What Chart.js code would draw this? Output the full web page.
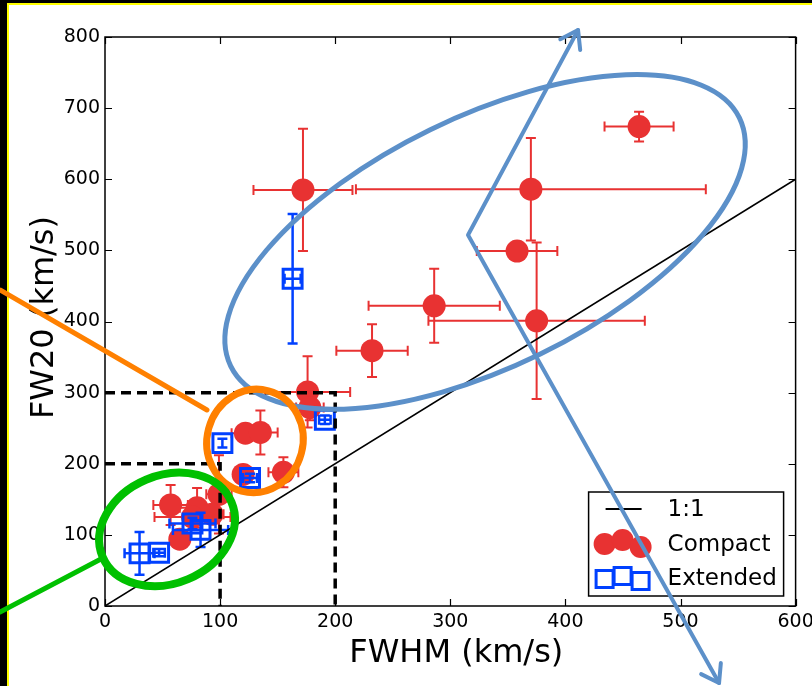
<!DOCTYPE html>
<html>
<head>
<meta charset="utf-8">
<script src="https://cdn.jsdelivr.net/npm/chart.js@4.4.1/dist/chart.umd.min.js"></script>
<style>
  html, body { margin: 0; padding: 0; background: #000; }
  canvas { display: block; }
</style>
</head>
<body>
<canvas id="chart" width="812" height="686"></canvas>
<script>
// Line widths (km/s): FWHM on x, FW20 on y, with 1-sigma errors
const compactFWHM    = [464, 370, 172, 358, 375, 286, 232, 176, 178, 122, 135, 155, 120,  99,  57,  80,  76,  93,  65];
const compactFW20    = [674, 586, 585, 499, 401, 422, 359, 301, 279, 243, 244, 188, 185, 157, 142, 138, 125, 129,  94];
const compactFWHMErr = [ 30, 152,  43,  35,  94,  57,  31,  37,  12,  12,  15,  13,   8,  11,  15,  15,  33,  10,   0];
const compactFW20Err = [ 21,  72,  86,   8, 110,  52,  37,  50,  18,  10,  31,  21,   8,  55,  28,  28,  12,  10,   0];

const extendedFWHM    = [163, 191, 102, 126,  83,  76,  30,  47];
const extendedFW20    = [460, 262, 229, 180, 107, 116,  74,  75];
const extendedFWHMErr = [  7,   5,   0,   6,  24,  20,  13,   5];
const extendedFW20Err = [ 91,   6,   6,   6,  24,   8,  30,   5];

// 1:1 reference line and the two selection boxes (FWHM < cut, FW20 < cut)
const unityFWHM = [0, 600];
const unityFW20 = [0, 600];
const boxFWHMCuts = [100, 200];
const boxFW20Cuts = [200, 300];

// Axis ticks
const xTickValues = [0, 100, 200, 300, 400, 500, 600];
const xTickLabels = ['0', '100', '200', '300', '400', '500', '600'];
const yTickValues = [0, 100, 200, 300, 400, 500, 600, 700, 800];
const yTickLabels = ['0', '100', '200', '300', '400', '500', '600', '700', '800'];

const xTitle = 'FWHM (km/s)';
const yTitle = 'FW20 (km/s)';

const RED = 'rgb(232,50,50)';
const BLUE = 'rgb(0,64,255)';
const FONT = "'DejaVu Sans', 'Liberation Sans', sans-serif";

const toPoints = (xs, ys) => xs.map((x, i) => ({ x, y: ys[i] }));
const boxPath = (fwhm, fw20) => [{ x: 0, y: fw20 }, { x: fwhm, y: fw20 }, { x: fwhm, y: 0 }];

// Callout shapes drawn over the plot (centres in data units, radii in px)
const calloutEllipses = [
  { cx: 330.2, cy: 511.8, rx: 283, ry: 125, rot: -26, color: 'rgb(92,144,201)', width: 5 },
  { cx: 130.3, cy: 232.0, rx: 48,  ry: 52,  rot: 15,  color: 'rgb(255,128,0)',  width: 7 },
  { cx: 53.9,  cy: 107.6, rx: 70,  ry: 54,  rot: -23, color: 'rgb(0,192,0)',    width: 8 }
];
const calloutLines = [
  { pts: [[-91.2, 444.3], [88.6, 275.6]], color: 'rgb(255,128,0)', width: 5, arrows: false },
  { pts: [[-91.2, -8.4], [-3.5, 66.1]], color: 'rgb(0,192,0)', width: 5, arrows: false },
  { pts: [[411.0, 809.8], [315.4, 521.6], [533.5, -108.3]], color: 'rgb(92,144,201)', width: 4, arrows: true }
];

const pageBackground = {
  id: 'pageBackground',
  beforeDraw(chart) {
    const { ctx, width, height } = chart;
    ctx.save();
    ctx.fillStyle = '#000';
    ctx.fillRect(0, 0, width, height);
    ctx.fillStyle = '#ffff00';
    ctx.fillRect(7, 3, width - 7, height - 3);
    ctx.fillStyle = '#fff';
    ctx.fillRect(9, 5, width - 9, height - 5);
    ctx.restore();
  }
};

const errorBars = {
  id: 'errorBars',
  beforeDatasetDraw(chart, args) {
    const ds = chart.data.datasets[args.index];
    if (!ds.errX) return;
    const { ctx } = chart;
    const xs = chart.scales.x, ys = chart.scales.y;
    const cap = 5;
    ctx.save();
    ctx.strokeStyle = ds.errColor;
    ctx.lineWidth = ds.errWidth;
    ds.data.forEach((p, i) => {
      const px = xs.getPixelForValue(p.x), py = ys.getPixelForValue(p.y);
      const ex = ds.errX[i], ey = ds.errY[i];
      ctx.beginPath();
      if (ex > 0) {
        const x0 = xs.getPixelForValue(p.x - ex), x1 = xs.getPixelForValue(p.x + ex);
        ctx.moveTo(x0, py); ctx.lineTo(x1, py);
        ctx.moveTo(x0, py - cap); ctx.lineTo(x0, py + cap);
        ctx.moveTo(x1, py - cap); ctx.lineTo(x1, py + cap);
      }
      if (ey > 0) {
        const y0 = ys.getPixelForValue(p.y - ey), y1 = ys.getPixelForValue(p.y + ey);
        ctx.moveTo(px, y0); ctx.lineTo(px, y1);
        ctx.moveTo(px - cap, y0); ctx.lineTo(px + cap, y0);
        ctx.moveTo(px - cap, y1); ctx.lineTo(px + cap, y1);
      }
      ctx.stroke();
    });
    ctx.restore();
  }
};

const frameAndLegend = {
  id: 'frameAndLegend',
  afterDatasetsDraw(chart) {
    const { ctx, chartArea: a } = chart;
    const xs = chart.scales.x, ys = chart.scales.y;
    ctx.save();
    // inward ticks on all four sides
    ctx.strokeStyle = '#000';
    ctx.lineWidth = 1.2;
    const tl = 7;
    ctx.beginPath();
    xTickValues.forEach(v => {
      const p = Math.round(xs.getPixelForValue(v)) + 0.5;
      ctx.moveTo(p, a.bottom); ctx.lineTo(p, a.bottom - tl);
      ctx.moveTo(p, a.top); ctx.lineTo(p, a.top + tl);
    });
    yTickValues.forEach(v => {
      const p = Math.round(ys.getPixelForValue(v)) + 0.5;
      ctx.moveTo(a.left, p); ctx.lineTo(a.left + tl, p);
      ctx.moveTo(a.right, p); ctx.lineTo(a.right - tl, p);
    });
    ctx.stroke();
    // frame
    ctx.lineWidth = 1.5;
    ctx.strokeRect(a.left, a.top, a.right - a.left, a.bottom - a.top);

    // axis titles
    ctx.fillStyle = '#000';
    ctx.font = '32px ' + FONT;
    ctx.textAlign = 'center';
    ctx.textBaseline = 'alphabetic';
    ctx.fillText(xTitle, (a.left + a.right) / 2 + 6, 662);
    ctx.save();
    ctx.translate(53, (a.top + a.bottom) / 2 - 4);
    ctx.rotate(-Math.PI / 2);
    ctx.fillText(yTitle, 0, 0);
    ctx.restore();

    // legend
    const w = 195, h = 104;
    const lx = a.right - 12 - w, ly = a.bottom - 10 - h;
    ctx.fillStyle = '#fff';
    ctx.fillRect(lx, ly, w, h);
    ctx.lineWidth = 1.5;
    ctx.strokeStyle = '#000';
    ctx.strokeRect(lx, ly, w, h);
    const rows = chart.data.datasets.filter(d => d.legendKind);
    const rowY = [17, 52, 86];
    const sampleX = [16, 34, 52];
    ctx.font = '23px ' + FONT;
    ctx.textAlign = 'left';
    ctx.textBaseline = 'middle';
    rows.forEach((d, r) => {
      const cy = ly + rowY[r];
      if (d.legendKind === 'line') {
        ctx.strokeStyle = d.borderColor;
        ctx.lineWidth = 2;
        ctx.beginPath();
        ctx.moveTo(lx + 17, cy); ctx.lineTo(lx + 53, cy);
        ctx.stroke();
      } else if (d.legendKind === 'circle') {
        const off = [0, -4, 3];
        ctx.fillStyle = d.backgroundColor;
        sampleX.forEach((sx, k) => {
          ctx.beginPath();
          ctx.arc(lx + sx, cy + off[k], 11, 0, Math.PI * 2);
          ctx.fill();
        });
      } else if (d.legendKind === 'square') {
        const off = [1, -2, 3];
        ctx.strokeStyle = d.borderColor;
        ctx.lineWidth = 3;
        sampleX.forEach((sx, k) => {
          ctx.strokeRect(lx + sx - 8.5, cy + off[k] - 8.5, 17, 17);
        });
      }
      ctx.fillStyle = '#000';
      ctx.fillText(d.label, lx + 79, cy + 1);
    });
    ctx.restore();
  }
};

const callouts = {
  id: 'callouts',
  afterDraw(chart) {
    const { ctx } = chart;
    const xs = chart.scales.x, ys = chart.scales.y;
    const px = v => xs.getPixelForValue(v), py = v => ys.getPixelForValue(v);
    ctx.save();
    ctx.lineCap = 'round';
    ctx.lineJoin = 'round';
    calloutEllipses.forEach(e => {
      ctx.strokeStyle = e.color;
      ctx.lineWidth = e.width;
      ctx.beginPath();
      ctx.ellipse(px(e.cx), py(e.cy), e.rx, e.ry, e.rot * Math.PI / 180, 0, Math.PI * 2);
      ctx.stroke();
    });
    calloutLines.forEach(l => {
      const pts = l.pts.map(([x, y]) => [px(x), py(y)]);
      ctx.strokeStyle = l.color;
      ctx.lineWidth = l.width;
      ctx.beginPath();
      pts.forEach(([x, y], i) => (i ? ctx.lineTo(x, y) : ctx.moveTo(x, y)));
      ctx.stroke();
      if (l.arrows) {
        const heads = [[pts[1], pts[0]], [pts[pts.length - 2], pts[pts.length - 1]]];
        heads.forEach(([from, tip]) => {
          const ang = Math.atan2(tip[1] - from[1], tip[0] - from[0]);
          const len = 20, spread = 0.6;
          ctx.beginPath();
          ctx.moveTo(tip[0] - len * Math.cos(ang - spread), tip[1] - len * Math.sin(ang - spread));
          ctx.lineTo(tip[0], tip[1]);
          ctx.lineTo(tip[0] - len * Math.cos(ang + spread), tip[1] - len * Math.sin(ang + spread));
          ctx.stroke();
        });
      }
    });
    ctx.restore();
  }
};

new Chart(document.getElementById('chart'), {
  type: 'scatter',
  data: {
    datasets: [
      {
        label: '1:1', type: 'line', legendKind: 'line', order: 0,
        data: toPoints(unityFWHM, unityFW20),
        borderColor: '#000', borderWidth: 1.5, pointRadius: 0, fill: false
      },
      {
        label: 'cut-100', type: 'line', order: 0,
        data: boxPath(boxFWHMCuts[0], boxFW20Cuts[0]),
        borderColor: '#000', borderWidth: 3.5, borderDash: [10, 6], pointRadius: 0, fill: false
      },
      {
        label: 'cut-200', type: 'line', order: 0,
        data: boxPath(boxFWHMCuts[1], boxFW20Cuts[1]),
        borderColor: '#000', borderWidth: 3.5, borderDash: [10, 6], pointRadius: 0, fill: false
      },
      {
        label: 'Compact', legendKind: 'circle', order: 2,
        data: toPoints(compactFWHM, compactFW20),
        errX: compactFWHMErr, errY: compactFW20Err, errColor: RED, errWidth: 2,
        pointStyle: 'circle', pointRadius: 11.5, backgroundColor: RED, borderWidth: 0
      },
      {
        label: 'Extended', legendKind: 'square', order: 1,
        data: toPoints(extendedFWHM, extendedFW20),
        errX: extendedFWHMErr, errY: extendedFW20Err, errColor: BLUE, errWidth: 2.5,
        pointStyle: 'rect', pointRadius: 13.4, backgroundColor: 'rgba(0,0,0,0)',
        borderColor: BLUE, borderWidth: 3
      }
    ]
  },
  options: {
    responsive: false,
    animation: false,
    events: [],
    devicePixelRatio: 1,
    layout: { padding: { left: 0, top: 37, right: 16, bottom: 0 } },
    plugins: { legend: { display: false }, tooltip: { enabled: false } },
    scales: {
      x: {
        type: 'linear', min: 0, max: 600,
        afterBuildTicks: s => { s.ticks = xTickValues.map(v => ({ value: v })); },
        afterFit: s => { s.height = 80; s.paddingLeft = 0; s.paddingRight = 0; },
        grid: { display: false, drawTicks: false },
        border: { display: false },
        ticks: {
          font: { family: FONT, size: 19 }, color: '#000', padding: 5,
          maxRotation: 0, autoSkip: false,
          callback: (v, i) => xTickLabels[i]
        }
      },
      y: {
        type: 'linear', min: 0, max: 800,
        afterBuildTicks: s => { s.ticks = yTickValues.map(v => ({ value: v })); },
        afterFit: s => { s.width = 105; s.paddingTop = 0; s.paddingBottom = 0; },
        grid: { display: false, drawTicks: false },
        border: { display: false },
        ticks: {
          font: { family: FONT, size: 19 }, color: '#000', padding: 5,
          autoSkip: false,
          callback: (v, i) => yTickLabels[i]
        }
      }
    }
  },
  plugins: [pageBackground, errorBars, frameAndLegend, callouts]
});
</script>
</body>
</html>
